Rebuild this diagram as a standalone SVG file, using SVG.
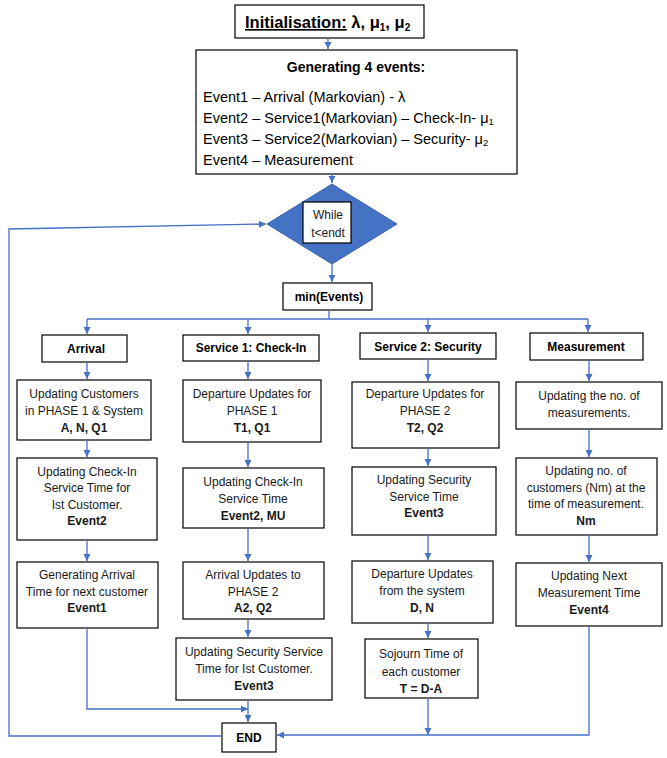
<svg xmlns="http://www.w3.org/2000/svg" width="667" height="758" viewBox="0 0 667 758">
  <defs>
    <marker id="arrow" markerUnits="userSpaceOnUse" markerWidth="8" markerHeight="8" refX="7" refY="4" orient="auto">
      <path d="M0,0.5 L7,4 L0,7.5 z" fill="#4472C4"/>
    </marker>
    <style>
      .box { fill: #ffffff; stroke: #000000; stroke-width: 1.2; }
      .t { font-family: "Liberation Sans", Arial, sans-serif; font-size: 12px; fill: #1a1a1a; text-anchor: middle; }
      .b { font-weight: bold; }
      .hd { font-family: "Liberation Sans", Arial, sans-serif; font-size: 12px; font-weight: bold; fill: #000; text-anchor: middle; }
      .ev { font-family: "Liberation Sans", Arial, sans-serif; font-size: 14.5px; fill: #000; }
      .conn { fill: none; stroke: #4472C4; stroke-width: 1.3; }
      .arr { marker-end: url(#arrow); }
    </style>
  </defs>
  <rect width="667" height="758" fill="#ffffff"/>

  <!-- start node -->
  <g id="init">
    <rect class="box" x="235" y="5" width="189" height="33"/>
    <text x="245" y="28" font-family="'Liberation Sans', Arial, sans-serif" font-size="16.5px" font-weight="bold" fill="#000"><tspan text-decoration="underline">Initialisation:</tspan> λ, μ<tspan font-size="10px" dy="3">1</tspan><tspan dy="-3">, μ</tspan><tspan font-size="10px" dy="3">2</tspan></text>
  </g>

  <!-- event definitions -->
  <g id="events">
    <rect class="box" x="196" y="50" width="321" height="124"/>
    <text x="356" y="72" font-family="'Liberation Sans', Arial, sans-serif" font-size="14px" font-weight="bold" text-anchor="middle" fill="#000">Generating 4 events:</text>
    <text class="ev" x="203" y="102">Event1 – Arrival (Markovian) - λ</text>
    <text class="ev" x="203" y="123">Event2 – Service1(Markovian) – Check-In- μ<tspan font-size="9.5px" dy="2">1</tspan></text>
    <text class="ev" x="203" y="144">Event3 – Service2(Markovian) – Security- μ<tspan font-size="9.5px" dy="2">2</tspan></text>
    <text class="ev" x="203" y="165">Event4 – Measurement</text>
  </g>

  <!-- loop condition -->
  <g id="loop">
    <polygon points="332,184 397,224 332,264 267,224" fill="#4472C4" stroke="#3A64AE" stroke-width="1"/>
    <rect class="box" x="303" y="202" width="48" height="41"/>
    <text class="t" x="328" y="219">While</text>
    <text class="t" x="328" y="237">t&lt;endt</text>
  </g>

  <g id="min-events">
    <rect class="box" x="283" y="283" width="89" height="27"/>
    <text class="hd" x="329" y="301">min(Events)</text>
  </g>

  <!-- column headers -->
  <g id="h-arrival">
    <rect class="box" x="42" y="335" width="85" height="27"/>
    <text class="hd" x="86" y="353">Arrival</text>
  </g>
  <g id="h-service1">
    <rect class="box" x="183" y="335" width="136" height="26"/>
    <text class="hd" x="251" y="352">Service 1: Check-In</text>
  </g>
  <g id="h-service2">
    <rect class="box" x="360" y="333" width="136" height="26"/>
    <text class="hd" x="428" y="351">Service 2: Security</text>
  </g>
  <g id="h-measurement">
    <rect class="box" x="530" y="333" width="113" height="27"/>
    <text class="hd" x="586" y="351">Measurement</text>
  </g>

  <!-- arrival column -->
  <g id="a1">
    <rect class="box" x="17" y="380" width="134" height="60"/>
    <text class="t" x="84" y="398">Updating Customers</text>
    <text class="t" x="84" y="415">in PHASE 1 &amp; System</text>
    <text class="t b" x="84" y="432">A, N, Q1</text>
  </g>
  <g id="a2">
    <rect class="box" x="17" y="458" width="140" height="82"/>
    <text class="t" x="87" y="476">Updating Check-In</text>
    <text class="t" x="87" y="492">Service Time for</text>
    <text class="t" x="87" y="509">Ist Customer.</text>
    <text class="t b" x="87" y="525">Event2</text>
  </g>
  <g id="a3">
    <rect class="box" x="17" y="562" width="141" height="66"/>
    <text class="t" x="87" y="579">Generating Arrival</text>
    <text class="t" x="87" y="596">Time for next customer</text>
    <text class="t b" x="87" y="612">Event1</text>
  </g>

  <!-- check-in column -->
  <g id="s1-1">
    <rect class="box" x="183" y="380" width="138" height="62"/>
    <text class="t" x="252" y="398">Departure Updates for</text>
    <text class="t" x="252" y="415">PHASE 1</text>
    <text class="t b" x="252" y="432">T1, Q1</text>
  </g>
  <g id="s1-2">
    <rect class="box" x="183" y="468" width="141" height="60"/>
    <text class="t" x="253" y="486">Updating Check-In</text>
    <text class="t" x="253" y="503">Service Time</text>
    <text class="t b" x="253" y="520">Event2, MU</text>
  </g>
  <g id="s1-3">
    <rect class="box" x="183" y="562" width="141" height="57"/>
    <text class="t" x="253" y="579">Arrival Updates to</text>
    <text class="t" x="253" y="596">PHASE 2</text>
    <text class="t b" x="253" y="612">A2, Q2</text>
  </g>
  <g id="s1-4">
    <rect class="box" x="176" y="638" width="156" height="62"/>
    <text class="t" x="254" y="656">Updating Security Service</text>
    <text class="t" x="254" y="673">Time for Ist Customer.</text>
    <text class="t b" x="254" y="690">Event3</text>
  </g>

  <!-- security column -->
  <g id="s2-1">
    <rect class="box" x="352" y="382" width="147" height="66"/>
    <text class="t" x="425" y="398">Departure Updates for</text>
    <text class="t" x="425" y="415">PHASE 2</text>
    <text class="t b" x="425" y="432">T2, Q2</text>
  </g>
  <g id="s2-2">
    <rect class="box" x="352" y="467" width="144" height="68"/>
    <text class="t" x="424" y="484">Updating Security</text>
    <text class="t" x="424" y="501">Service Time</text>
    <text class="t b" x="424" y="517">Event3</text>
  </g>
  <g id="s2-3">
    <rect class="box" x="352" y="561" width="141" height="62"/>
    <text class="t" x="422" y="578">Departure Updates</text>
    <text class="t" x="422" y="595">from the system</text>
    <text class="t b" x="422" y="612">D, N</text>
  </g>
  <g id="s2-4">
    <rect class="box" x="365" y="639" width="113" height="59"/>
    <text class="t" x="421" y="658">Sojourn Time of</text>
    <text class="t" x="421" y="676">each customer</text>
    <text class="t b" x="421" y="693">T = D-A</text>
  </g>

  <!-- measurement column -->
  <g id="m1">
    <rect class="box" x="516" y="382" width="146" height="47"/>
    <text class="t" x="589" y="400">Updating the no. of</text>
    <text class="t" x="589" y="417">measurements.</text>
  </g>
  <g id="m2">
    <rect class="box" x="516" y="458" width="141" height="77"/>
    <text class="t" x="586" y="475">Updating no. of</text>
    <text class="t" x="586" y="492">customers (Nm) at the</text>
    <text class="t" x="586" y="508">time of measurement.</text>
    <text class="t b" x="586" y="525">Nm</text>
  </g>
  <g id="m3">
    <rect class="box" x="516" y="563" width="146" height="63"/>
    <text class="t" x="589" y="580">Updating Next</text>
    <text class="t" x="589" y="597">Measurement Time</text>
    <text class="t b" x="589" y="614">Event4</text>
  </g>

  <g id="end">
    <rect class="box" x="222" y="723" width="54" height="29"/>
    <text class="hd" x="249" y="742" font-size="13px">END</text>
  </g>

  <!-- connectors -->
  <g id="connectors">
    <path class="conn arr" d="M328,38 V49"/>
    <path class="conn arr" d="M332,174 V183"/>
    <path class="conn arr" d="M332,264 V282"/>
    <path class="conn" d="M329,310 V319 M87,319 H588"/>
    <path class="conn arr" d="M87,319 V334"/>
    <path class="conn arr" d="M248,319 V334"/>
    <path class="conn arr" d="M428,319 V332"/>
    <path class="conn arr" d="M588,319 V332"/>

    <path class="conn arr" d="M87,362 V379"/>
    <path class="conn arr" d="M87,440 V457"/>
    <path class="conn arr" d="M87,540 V561"/>

    <path class="conn arr" d="M248,361 V379"/>
    <path class="conn arr" d="M248,442 V467"/>
    <path class="conn arr" d="M248,528 V561"/>
    <path class="conn arr" d="M248,619 V637"/>

    <path class="conn arr" d="M428,359 V381"/>
    <path class="conn arr" d="M428,448 V466"/>
    <path class="conn arr" d="M428,535 V560"/>
    <path class="conn arr" d="M428,623 V638"/>

    <path class="conn arr" d="M589,360 V381"/>
    <path class="conn arr" d="M589,429 V457"/>
    <path class="conn arr" d="M589,535 V562"/>

    <!-- flows into END -->
    <path class="conn arr" d="M87,628 V709 H248"/>
    <path class="conn arr" d="M248,700 V722"/>
    <path class="conn arr" d="M428,698 V735"/>
    <path class="conn arr" d="M589,626 V735 H277"/>

    <!-- return to loop condition -->
    <path class="conn arr" d="M222,736 H9 V229 L266,224"/>
  </g>
</svg>
